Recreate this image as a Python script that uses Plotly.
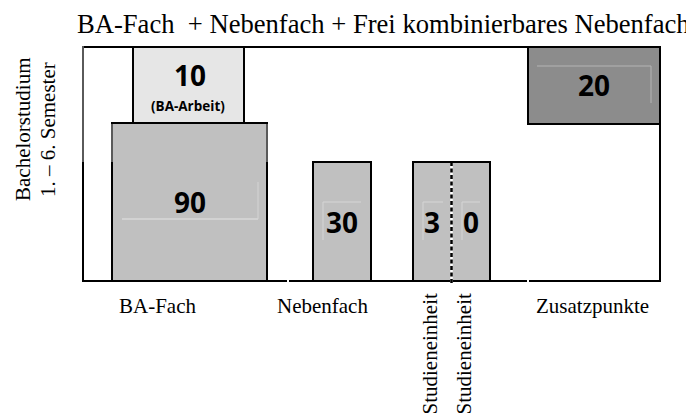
import plotly.graph_objects as go

# ---- data ----
categories = ["BA-Fach", "BA-Arbeit", "Nebenfach", "Studieneinheit", "Zusatzpunkte"]
credits = [90, 10, 30, 30, 20]
axis_labels = ["BA-Fach", "Nebenfach", "Studieneinheit", "Studieneinheit", "Zusatzpunkte"]
title_text = "BA-Fach  + Nebenfach + Frei kombinierbares Nebenfach"
ylabel_lines = ["Bachelorstudium", "1. – 6. Semester"]

# ---- schematic geometry (axis units) ----
box_x0 = [29, 50, 230, 330, 445]
box_x1 = [184, 161, 288, 407, 577]
box_y0 = [0, 158, 0, 0, 157]
box_y1 = [158, 234, 119, 119, 234]
fills = ["#c0c0c0", "#e6e6e6", "#c0c0c0", "#c0c0c0", "#8c8c8c"]

SERIF = "Liberation Serif"
SANS = "Open Sans"

XR = [-2, 579]
YR = [-2, 236]

centers = [(a + b) / 2 for a, b in zip(box_x0, box_x1)]
widths = [b - a for a, b in zip(box_x0, box_x1)]
heights = [b - a for a, b in zip(box_y0, box_y1)]
mids = [(a + b) / 2 for a, b in zip(box_y0, box_y1)]

fig = go.Figure()
fig.add_trace(go.Bar(
    x=centers, y=heights, base=box_y0, width=widths,
    marker=dict(color=fills, line=dict(color="black", width=2)),
    hoverinfo="skip", showlegend=False,
))

XMAX = box_x1[4]
YMAX = box_y1[1]
YMID = box_y1[2]
shapes = []
blk = dict(color="black", width=2)
gry = dict(color="#5a5a5a", width=2)
# frame
shapes.append(dict(type="line", x0=0, x1=box_x0[4], y0=YMAX, y1=YMAX, line=blk))
shapes.append(dict(type="line", x0=0, x1=0, y0=YMID, y1=YMAX + 1, line=gry))
shapes.append(dict(type="line", x0=0, x1=0, y0=-1, y1=YMID, line=blk))
shapes.append(dict(type="line", x0=XMAX, x1=XMAX, y0=0, y1=box_y0[4], line=blk))
# upper parts of the BA-Fach box sides drawn lighter
for xe in (box_x0[0], box_x1[0]):
    shapes.append(dict(type="line", x0=xe, x1=xe, y0=YMID, y1=box_y1[0] - 1, line=gry))
gaps = [205, 445]
segs = [(-1, gaps[0] - 1), (gaps[0] + 1, gaps[1] - 1), (gaps[1] + 1, XMAX + 1)]
for a, b in segs:
    shapes.append(dict(type="line", x0=a, x1=b, y0=0, y1=0, line=blk))
# dashed divider in Studieneinheit box
xd = centers[3]
shapes.append(dict(type="line", x0=xd, x1=xd, y0=-2, y1=box_y1[3] - 1,
                   line=dict(color="white", width=2.5)))
shapes.append(dict(type="line", x0=xd, x1=xd, y0=-2, y1=box_y1[3] - 1,
                   line=dict(color="black", width=2.5, dash="4px,2.5px")))

# faint text-frame remnants around the numbers
def faint_corner(xl, xr, yt, yb, color, left=False):
    w = dict(color=color, width=1)
    shapes.append(dict(type="line", x0=xl, x1=xr, y0=yt, y1=yt, line=w))
    xv = xl if left else xr
    shapes.append(dict(type="line", x0=xv, x1=xv, y0=yt, y1=yb, line=w))

faint_corner(39, 175, 62, 62, "#e4e4e4")
shapes.append(dict(type="line", x0=175, x1=175, y0=62, y1=99, line=dict(color="#d4d4d4", width=1)))
faint_corner(454, 568, 215, 178, "#b4b4b4")
faint_corner(240, 278, 79, 41, "#d6d6d6", left=True)
faint_corner(340, 360, 79, 41, "#d6d6d6", left=True)
faint_corner(379, 397, 79, 41, "#d6d6d6", left=True)

for s in shapes:
    s["layer"] = "above"
    s["xref"] = "x"
    s["yref"] = "y"


def px(x):
    return (x - XR[0]) / (XR[1] - XR[0])


def py(y):
    return (y - YR[0]) / (YR[1] - YR[0])


ann = []


def text(x, y, t, family, size, angle=0, ya="middle"):
    ann.append(dict(x=px(x), y=py(y), xref="paper", yref="paper", text=t, showarrow=False,
                    textangle=angle, font=dict(family=family, size=size, color="black"),
                    xanchor="center", yanchor=ya))


def num(x, y, t, size=28):
    text(x, y, "<b>%s</b>" % t, SANS, size)


num(centers[0], mids[0], credits[0])
num(centers[1] + 1, mids[1] + 10, credits[1])
text(centers[1] - 1, mids[1] - 21, "<b>(%s)</b>" % categories[1], SANS, 13.5)
num(centers[2], mids[2], credits[2])
s30 = str(credits[3])
num((box_x0[3] + xd) / 2, mids[3], s30[0])
num((xd + box_x1[3]) / 2, mids[3], s30[1])
num(centers[4], mids[4], credits[4])

# title
text(300.5, 257, title_text, SERIF, 26.6)
# y label
text(-60, 151, ylabel_lines[0], SERIF, 21, angle=-90)
text(-35, 151, ylabel_lines[1], SERIF, 21, angle=-90)
# category labels
lab_x = [74, 239, 346, 380, 509]
for i, t in enumerate(axis_labels):
    if t == "Studieneinheit":
        text(lab_x[i], -11, t, SERIF, 21, angle=-90, ya="top")
    else:
        text(lab_x[i], -25, t, SERIF, 21)

fig.update_layout(
    width=686, height=408,
    margin=dict(l=73, r=32, t=37, b=133),
    paper_bgcolor="white", plot_bgcolor="white",
    barmode="overlay", bargap=0,
    xaxis=dict(range=XR, visible=False, fixedrange=True),
    yaxis=dict(range=YR, visible=False, fixedrange=True),
    shapes=shapes, annotations=ann,
)
fig.write_html("out.html")
